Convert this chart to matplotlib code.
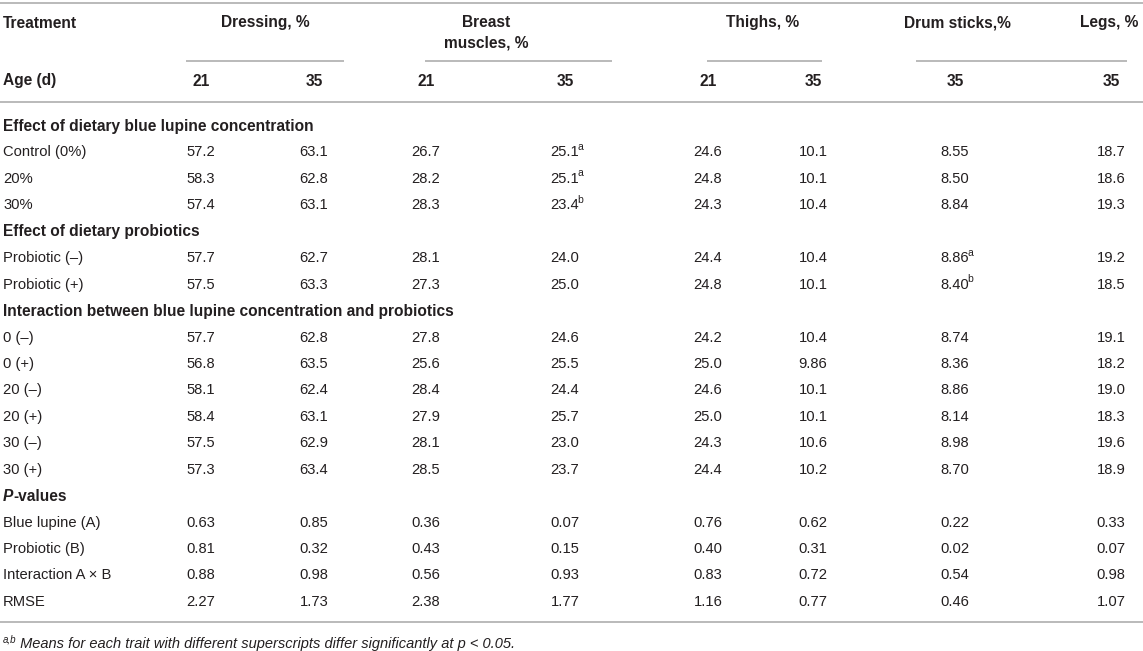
import matplotlib
matplotlib.use("Agg")
import matplotlib.pyplot as plt

plt.rcParams['font.family'] = ['Liberation Sans', 'DejaVu Sans']

# table content
group_headers = ["Dressing, %", "Breast\nmuscles, %", "Thighs, %", "Drum sticks,%", "Legs, %"]
age_labels = ["21", "35", "21", "35", "21", "35", "35", "35"]

sections = [
    ("Effect of dietary blue lupine concentration", ["Control (0%)", "20%", "30%"]),
    ("Effect of dietary probiotics", ["Probiotic (\u2013)", "Probiotic (+)"]),
    ("Interaction between blue lupine concentration and probiotics",
     ["0 (\u2013)", "0 (+)", "20 (\u2013)", "20 (+)", "30 (\u2013)", "30 (+)"]),
    ("P-values", ["Blue lupine (A)", "Probiotic (B)", "Interaction A \u00d7 B", "RMSE"]),
]

dressing_21 = ["57.2", "58.3", "57.4", "57.7", "57.5", "57.7", "56.8", "58.1", "58.4", "57.5", "57.3",
               "0.63", "0.81", "0.88", "2.27"]
dressing_35 = ["63.1", "62.8", "63.1", "62.7", "63.3", "62.8", "63.5", "62.4", "63.1", "62.9", "63.4",
               "0.85", "0.32", "0.98", "1.73"]
breast_21 = ["26.7", "28.2", "28.3", "28.1", "27.3", "27.8", "25.6", "28.4", "27.9", "28.1", "28.5",
             "0.36", "0.43", "0.56", "2.38"]
breast_35 = ["25.1", "25.1", "23.4", "24.0", "25.0", "24.6", "25.5", "24.4", "25.7", "23.0", "23.7",
             "0.07", "0.15", "0.93", "1.77"]
thighs_21 = ["24.6", "24.8", "24.3", "24.4", "24.8", "24.2", "25.0", "24.6", "25.0", "24.3", "24.4",
             "0.76", "0.40", "0.83", "1.16"]
thighs_35 = ["10.1", "10.1", "10.4", "10.4", "10.1", "10.4", "9.86", "10.1", "10.1", "10.6", "10.2",
             "0.62", "0.31", "0.72", "0.77"]
drum_35 = ["8.55", "8.50", "8.84", "8.86", "8.40", "8.74", "8.36", "8.86", "8.14", "8.98", "8.70",
           "0.22", "0.02", "0.54", "0.46"]
legs_35 = ["18.7", "18.6", "19.3", "19.2", "18.5", "19.1", "18.2", "19.0", "18.3", "19.6", "18.9",
           "0.33", "0.07", "0.98", "1.07"]

# superscripts: (column index, data row index, letter)
superscripts = [(3, 0, "a"), (3, 1, "a"), (3, 2, "b"), (6, 3, "a"), (6, 4, "b")]

footnote = " Means for each trait with different superscripts differ significantly at p < 0.05."

columns = [dressing_21, dressing_35, breast_21, breast_35, thighs_21, thighs_35, drum_35, legs_35]

# layout (pixel coordinates)
W, H = 1143, 651
col_x = [201, 314, 426, 565, 708, 813, 955, 1111]
group_x = [265, 486, 763, 957, 1109]
group_lines = [(186, 344), (425, 612), (707, 822), (916, 1127)]
row0_y = 126
row_step = 26.44
txt = "#231f20"
rule = "#b4b4b4"
fs = 10.6
fs_bold = 11.2

fig = plt.figure(figsize=(W / 100, H / 100), dpi=100)
ax = fig.add_axes([0, 0, 1, 1])
ax.set_xlim(0, W)
ax.set_ylim(H, 0)
ax.axis("off")

# rules
for y in (3, 102, 622):
    ax.plot([0, W], [y, y], color=rule, lw=1.3, solid_capstyle="butt")
for x0, x1 in group_lines:
    ax.plot([x0, x1], [61, 61], color=rule, lw=1.3, solid_capstyle="butt")

# header
ax.text(3, 23, "Treatment", fontsize=fs_bold, fontweight="bold", color=txt, va="center")
for gx, label in zip(group_x, group_headers):
    ax.text(gx, 33 if "\n" in label else 23, label, fontsize=fs_bold, fontweight="bold", color=txt,
            ha="center", va="center", linespacing=1.45)
ax.text(3, 81, "Age (d)", fontsize=fs_bold, fontweight="bold", color=txt, va="center")
for cx, label in zip(col_x, age_labels):
    ax.text(cx, 81, label, fontsize=fs_bold, fontweight="bold", color=txt, ha="center", va="center")

# body
cells = {}
y = row0_y
data_row = 0
for title, rows in sections:
    if title.startswith("P-"):
        t = ax.text(3, y, "P", fontsize=fs_bold, fontweight="bold", fontstyle="italic", color=txt,
                    va="center")
        ax.annotate("-values", xy=(1, 0), xycoords=t, fontsize=fs_bold, fontweight="bold", color=txt,
                    va="bottom", ha="left")
    else:
        ax.text(3, y, title, fontsize=fs_bold, fontweight="bold", color=txt, va="center")
    y += row_step
    for label in rows:
        ax.text(3, y, label, fontsize=fs, color=txt, va="center")
        for ci, col in enumerate(columns):
            cells[(ci, data_row)] = ax.text(col_x[ci], y, col[data_row], fontsize=fs, color=txt,
                                            ha="center", va="center")
        data_row += 1
        y += row_step

for ci, ri, letter in superscripts:
    ax.annotate(letter, xy=(1, 0.55), xycoords=cells[(ci, ri)], xytext=(-1.2, 0),
                textcoords="offset points", fontsize=7.5, color=txt, ha="left", va="bottom")

# footnote
fn = ax.text(3, 645, "a,b", fontsize=7, fontstyle="italic", color=txt, va="bottom")
ax.annotate(footnote, xy=(1, 0), xycoords=fn, xytext=(0, -4), textcoords="offset points",
            fontsize=10.5, fontstyle="italic", color=txt, ha="left", va="bottom")

fig.savefig("out.png", dpi=100)
